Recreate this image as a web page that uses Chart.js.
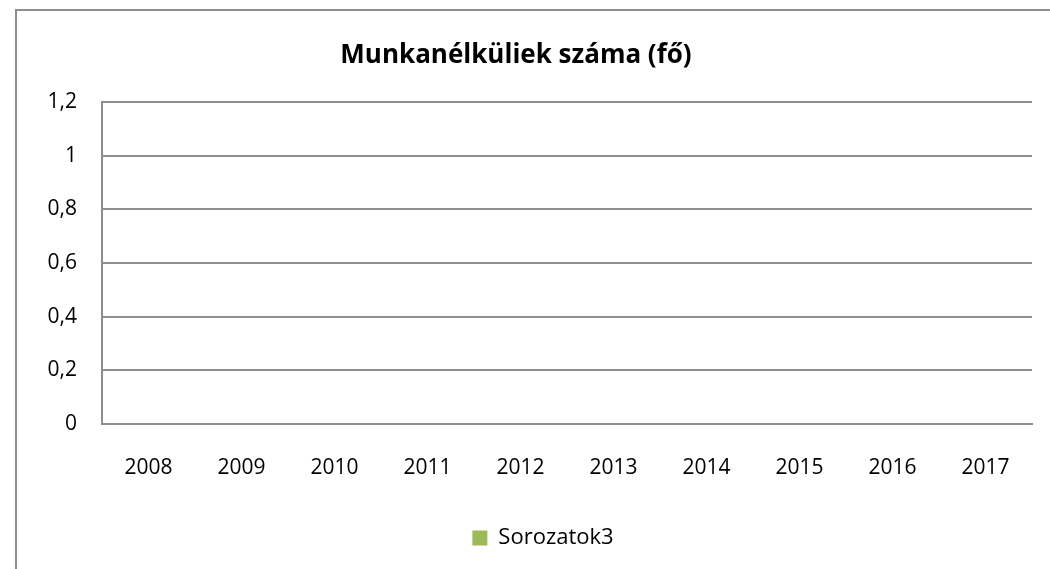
<!DOCTYPE html>
<html>
<head>
<meta charset="utf-8">
<script src="https://cdn.jsdelivr.net/npm/chart.js@4"></script>
<style>
    body { margin: 0; background: #fff; overflow: hidden; }
    #keret { position: absolute; left: 15px; top: 9px; width: 1100px; height: 600px; border: 2px solid #8e8e8e; }
    #lienzo { position: absolute; left: 0; top: 0; }
</style>
</head>
<body>
<div id="keret"></div>
<canvas id="lienzo" width="1050" height="569"></canvas>
<script>
// adatok
const evek = ["2008", "2009", "2010", "2011", "2012", "2013", "2014", "2015", "2016", "2017"];
const sorozat3 = [null, null, null, null, null, null, null, null, null, null];
const yTickek = [0, 0.2, 0.4, 0.6, 0.8, 1, 1.2];

const betu = "'Open Sans', 'DejaVu Sans', sans-serif";

// a jelmagyarázat kicsit jobbra kerül, mint az eredetin
const jelmagyarazatEltolas = {
    id: "jelmagyarazatEltolas",
    afterLayout(chart) {
        chart.legend.left += 27;
        chart.legend.right += 27;
    }
};

const ctx = document.getElementById("lienzo").getContext("2d");

new Chart(ctx, {
    type: "bar",
    data: {
        labels: evek,
        datasets: [{
            label: "Sorozatok3",
            data: sorozat3,
            backgroundColor: "#9bbb59",
            borderWidth: 0
        }]
    },
    options: {
        responsive: false,
        animation: false,
        layout: { padding: { left: 0, right: 18, top: 0, bottom: 10 } },
        plugins: {
            title: {
                display: true,
                text: "Munkanélküliek száma (fő)",
                color: "#000",
                font: { family: betu, size: 26, weight: "bold" },
                padding: { top: 40, bottom: 31 }
            },
            legend: {
                position: "bottom",
                labels: {
                    color: "#000",
                    font: { family: betu, size: 22 },
                    boxWidth: 15,
                    boxHeight: 15,
                    padding: 10
                }
            },
            tooltip: { enabled: false }
        },
        scales: {
            x: {
                grid: { display: false, drawTicks: false },
                border: { display: true, color: "#8e8e8e", width: 2 },
                ticks: { color: "#000", font: { family: betu, size: 21 }, padding: 31, maxRotation: 0 },
                afterFit: (eje) => { eje.height = 93; }
            },
            y: {
                min: 0,
                max: 1.2,
                afterBuildTicks: (eje) => { eje.ticks = yTickek.map(v => ({ value: v })); },
                grid: { color: "#8e8e8e", lineWidth: 2, drawTicks: false },
                border: { display: true, color: "#8e8e8e", width: 2 },
                ticks: {
                    color: "#000",
                    font: { family: betu, size: 21 },
                    padding: 25,
                    callback: (v) => String(v).replace(".", ",")
                },
                afterFit: (eje) => { eje.width = 102; }
            }
        }
    },
    plugins: [jelmagyarazatEltolas]
});
</script>
</body>
</html>
